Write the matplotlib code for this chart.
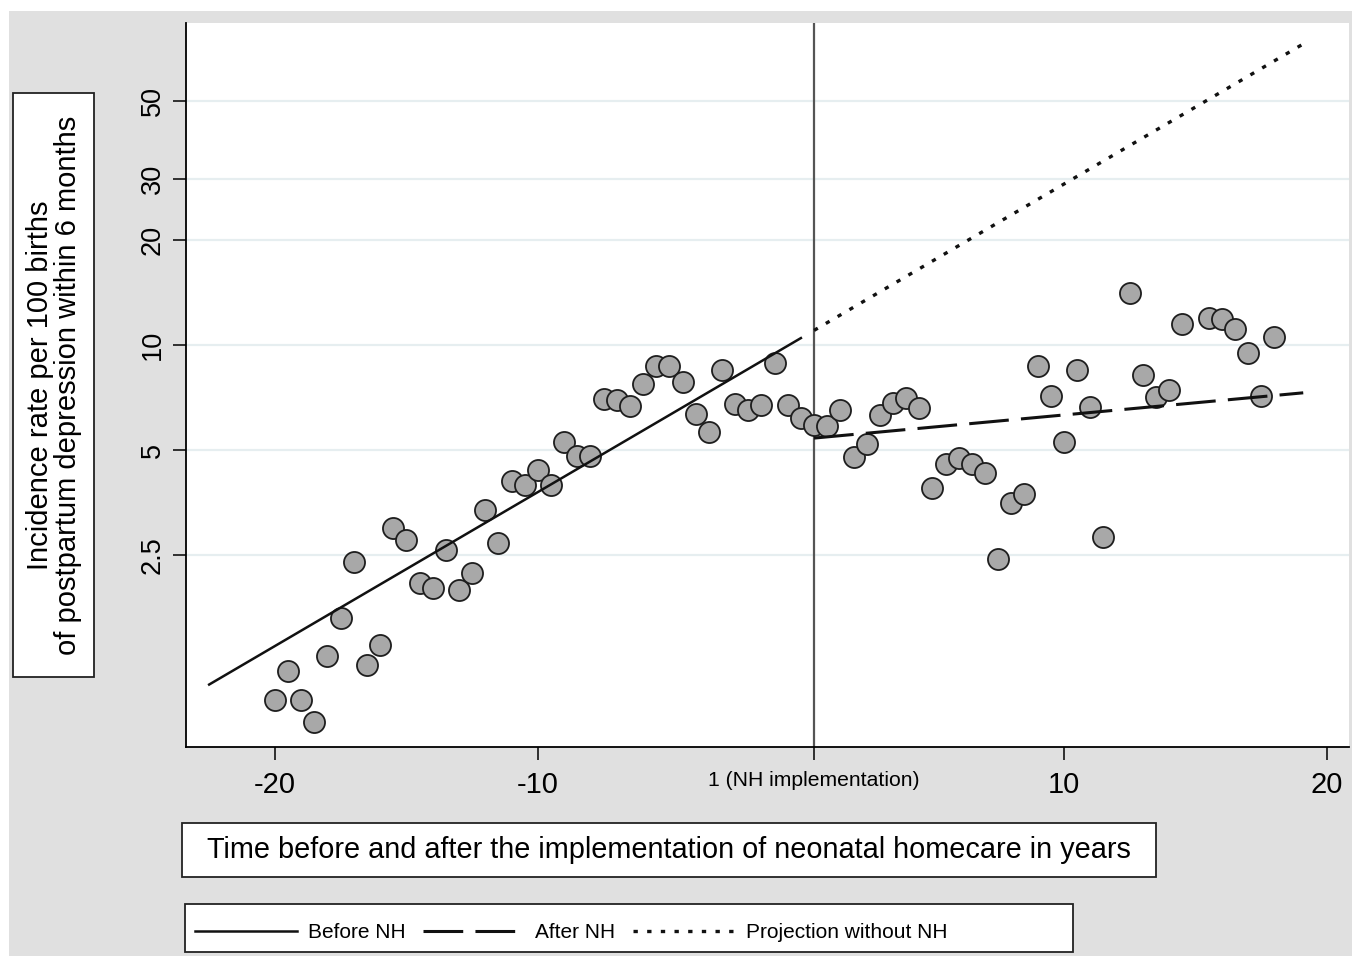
import numpy as np
import matplotlib
matplotlib.use("Agg")
import matplotlib.pyplot as plt
from matplotlib.patches import Rectangle
from matplotlib.lines import Line2D

plt.rcParams['font.family'] = ['Liberation Sans', 'DejaVu Sans']

# observed incidence per 100 births, every half year
years = [-20, -19.5, -19, -18.5, -18, -17.5, -17, -16.5, -16, -15.5,
         -15, -14.5, -14, -13.5, -13, -12.5, -12, -11.5, -11, -10.5,
         -10, -9.5, -9, -8.5, -8, -7.5, -7, -6.5, -6, -5.5,
         -5, -4.5, -4, -3.5, -3, -2.5, -2, -1.5, -1, -0.5,
         0, 0.5, 1, 1.5, 2, 2.5, 3, 3.5, 4, 4.5,
         5, 5.5, 6, 6.5, 7, 7.5, 8, 8.5, 9, 9.5,
         10, 10.5, 11, 11.5, 12.5, 13, 13.5, 14, 14.5, 15.5,
         16, 16.5, 17, 17.5, 18]
rates = [0.96, 1.16, 0.96, 0.83, 1.28, 1.65, 2.39, 1.21, 1.38, 2.99,
         2.76, 2.08, 2.01, 2.58, 1.99, 2.22, 3.36, 2.71, 4.08, 3.97,
         4.38, 3.97, 5.27, 4.81, 4.81, 7.00, 6.96, 6.69, 7.73, 8.71,
         8.71, 7.83, 6.34, 5.63, 8.48, 6.77, 6.51, 6.73, 8.88, 6.73,
         6.18, 5.90, 5.86, 6.51, 4.77, 5.20, 6.30, 6.82, 7.05, 6.60,
         3.89, 4.56, 4.74, 4.56, 4.30, 2.44, 3.52, 3.74, 8.71, 7.14,
         5.27, 8.48, 6.64, 2.82, 14.10, 8.20, 7.09, 7.43, 11.49, 11.95,
         11.87, 11.11, 9.49, 7.14, 10.54]

# fitted segmented regression (log scale): rate at reference year, yearly factor
nh_year = 0.5
pre_rate0, pre_factor = 10.47, 1.107      # at year 0
post_rate0, post_factor = 5.41, 1.0162    # at nh_year
pre_span = (-22.5, 0)
post_span = (0.5, 19.1)

yticks = [2.5, 5, 10, 20, 30, 50]
ytick_labels = ['2.5', '5', '10', '20', '30', '50']
xticks = [-20, -10, nh_year, 10, 20]
xtick_labels = ['-20', '-10', '1 (NH implementation)', '10', '20']

W, H = 1359, 956
fig = plt.figure(figsize=(W / 100, H / 100), dpi=100)
fig.patches.append(Rectangle((9 / W, 0), (1352 - 9) / W, (H - 11) / H,
                             transform=fig.transFigure, fc='#E0E0E0', ec='none', zorder=-10))

ax = fig.add_axes([186 / W, 1 - 747 / H, (1349 - 186) / W, (747 - 23) / H])
ax.set_yscale('log')
ax.set_xlim(-23.38, 20.84)
ax.set_ylim(0.704, 83.8)

ax.axvline(nh_year, color='#555555', lw=1.6, zorder=1)
ax.scatter(years, rates, s=230, c='#A8A8A8', edgecolors='#1e1e1e', linewidths=1.3, zorder=3)

dot_style = (0, (1.3, 2.8))
dash_style = (0, (13, 4))

t_pre = np.linspace(pre_span[0], pre_span[1], 50)
ax.plot(t_pre, pre_rate0 * pre_factor ** t_pre, color='#111111', lw=1.8, zorder=4)
t_post = np.linspace(post_span[0], post_span[1], 50)
ax.plot(t_post, post_rate0 * post_factor ** (t_post - nh_year), color='#111111', lw=2.2,
        ls=dash_style, dash_capstyle='butt', zorder=4)
ax.plot(t_post, pre_rate0 * pre_factor ** t_post, color='#111111', lw=2.4,
        ls=dot_style, dash_capstyle='butt', zorder=4)

ax.set_yticks(yticks)
ax.set_yticklabels(ytick_labels)
ax.yaxis.set_minor_locator(matplotlib.ticker.NullLocator())
ax.set_xticks(xticks)
ax.set_xticklabels(xtick_labels)
ax.grid(axis='y', color='#E6EEF0', lw=1.6)
ax.set_axisbelow(True)
for s in ['top', 'right']:
    ax.spines[s].set_visible(False)
for s in ['left', 'bottom']:
    ax.spines[s].set_linewidth(1.3)
ax.tick_params(axis='both', length=9.5, width=1.1, color='black')
ax.tick_params(axis='y', labelsize=19.5, pad=5, labelrotation=90)
ax.tick_params(axis='x', labelsize=21, pad=8)
for lab in ax.get_yticklabels():
    lab.set_va('center')
ax.get_xticklabels()[2].set_fontsize(15.2)

# y title box
fig.patches.append(Rectangle((13 / W, 1 - 677 / H), 81 / W, 584 / H, transform=fig.transFigure,
                             fc='white', ec='#222222', lw=1.3))
fig.text(54 / W, 1 - 385 / H, 'Incidence rate per 100 births\nof postpartum depression within 6 months',
         rotation=90, ha='center', va='center', fontsize=21, linespacing=0.98)

# x title box
fig.patches.append(Rectangle((182 / W, 1 - 877 / H), 974 / W, 54 / H, transform=fig.transFigure,
                             fc='white', ec='#222222', lw=1.3))
fig.text(669 / W, 1 - 850 / H, 'Time before and after the implementation of neonatal homecare in years',
         ha='center', va='center', fontsize=20.8)

# legend
fig.patches.append(Rectangle((185 / W, 1 - 952 / H), 888 / W, 48 / H, transform=fig.transFigure,
                             fc='white', ec='#222222', lw=1.3))
handles = [Line2D([], [], color='#111111', lw=1.8),
           Line2D([], [], color='#111111', lw=2.2, ls=dash_style, dash_capstyle='butt'),
           Line2D([], [], color='#111111', lw=2.4, ls=dot_style, dash_capstyle='butt')]
fig.legend(handles, ['Before NH', 'After NH', 'Projection without NH'], ncol=3, frameon=False,
           loc='center left', bbox_to_anchor=(195 / W, 1 - 933 / H), fontsize=15,
           handlelength=4.9, handletextpad=0.5, columnspacing=0.85, borderpad=0, borderaxespad=0)

fig.savefig('out.png', dpi=100)
